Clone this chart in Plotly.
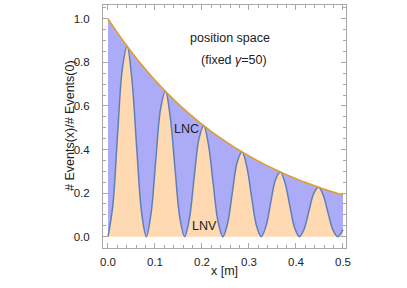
import plotly.graph_objects as go

# x positions [m]
x_m = [0, 0.0102, 0.0204, 0.0306, 0.0408, 0.0509, 0.0611, 0.0713, 0.0815, 0.0917,
       0.1019, 0.1121, 0.1223, 0.1324, 0.1426, 0.1528, 0.1630, 0.1732, 0.1834, 0.1936,
       0.2038, 0.2139, 0.2241, 0.2343, 0.2445, 0.2547, 0.2649, 0.2751, 0.2853, 0.2954,
       0.3056, 0.3158, 0.3260, 0.3362, 0.3464, 0.3566, 0.3668, 0.3769, 0.3871, 0.3973,
       0.4075, 0.4177, 0.4279, 0.4381, 0.4483, 0.4584, 0.4686, 0.4788, 0.4890, 0.5000]

# total (envelope) = LNC + LNV
total = [1.0, 0.9668, 0.9348, 0.9038, 0.8738, 0.8448, 0.8168, 0.7897, 0.7635, 0.7382,
         0.7137, 0.6900, 0.6671, 0.6450, 0.6236, 0.6029, 0.5829, 0.5636, 0.5449, 0.5268,
         0.5094, 0.4925, 0.4761, 0.4603, 0.4451, 0.4303, 0.4160, 0.4022, 0.3889, 0.3760,
         0.3635, 0.3515, 0.3398, 0.3285, 0.3176, 0.3071, 0.2969, 0.2870, 0.2775, 0.2683,
         0.2594, 0.2508, 0.2425, 0.2345, 0.2267, 0.2192, 0.2119, 0.2049, 0.1981, 0.1910]

# LNV part
lnv = [0.0, 0.1416, 0.4674, 0.7714, 0.8738, 0.7211, 0.4084, 0.1157, 0.0, 0.1081,
       0.3569, 0.5890, 0.6671, 0.5505, 0.3118, 0.0883, 0.0, 0.0825, 0.2725, 0.4497,
       0.5094, 0.4203, 0.2381, 0.0674, 0.0, 0.0630, 0.2080, 0.3433, 0.3889, 0.3209,
       0.1818, 0.0515, 0.0, 0.0481, 0.1588, 0.2621, 0.2969, 0.2450, 0.1388, 0.0393,
       0.0, 0.0367, 0.1213, 0.2001, 0.2267, 0.1871, 0.1059, 0.0300, 0.0, 0.0323]

x_ticks = [0.0, 0.1, 0.2, 0.3, 0.4, 0.5]
y_ticks = [0.0, 0.2, 0.4, 0.6, 0.8, 1.0]

FONT = "Liberation Sans, Arial, sans-serif"
FRAME = "#a8a8a8"
TXT = "#222"

W, H = 407, 288
L, R, T, B = 103, 346, 5, 248  # plot frame in pixels
PW, PH = R - L, B - T


def px(xp):
    return (xp - L) / PW


def py(yp):
    return 1 - (yp - T) / PH


fig = go.Figure()
fig.add_trace(go.Scatter(
    x=x_m, y=lnv, mode="lines", line=dict(color="#5E81B5", width=1.5, shape="spline"),
    fill="tozeroy", fillcolor="#FED9B2", showlegend=False, hoverinfo="skip"))
fig.add_trace(go.Scatter(
    x=x_m, y=total, mode="lines", line=dict(color="#E19C24", width=1.5, shape="spline"),
    fill="tonexty", fillcolor="#ABABF7", showlegend=False, hoverinfo="skip"))

axis_common = dict(
    showline=True, linecolor=FRAME, linewidth=1, mirror="allticks",
    ticks="inside", tickcolor=FRAME, ticklen=5, tickwidth=1,
    showgrid=False, zeroline=False, automargin=False,
    tickfont=dict(family=FONT, size=11.5, color=TXT),
)

fig.update_xaxes(range=[-0.0106, 0.5064], tickvals=x_ticks,
                 ticktext=[f"{v:.1f}" for v in x_ticks],
                 ticklabelstandoff=3,
                 minor=dict(dtick=0.02, ticks="inside", ticklen=3, tickcolor=FRAME),
                 **axis_common)
fig.update_yaxes(range=[-0.052, 1.063], tickvals=y_ticks,
                 ticktext=[f"{v:.1f}" for v in y_ticks],
                 ticklabelstandoff=10,
                 minor=dict(dtick=0.05, ticks="inside", ticklen=3, tickcolor=FRAME),
                 **axis_common)

ann_font = dict(family=FONT, size=12.5, color=TXT)
# axis titles
fig.add_annotation(x=px(224), y=py(280), xref="paper", yref="paper", text="x [m]",
                   showarrow=False, font=ann_font)
fig.add_annotation(x=px(70), y=py(126), xref="paper", yref="paper",
                   text="# Events(x)/# Events(0)", textangle=-90,
                   xanchor="center", yanchor="middle",
                   showarrow=False, font=ann_font)
# text labels
fig.add_annotation(x=px(272), y=py(29), xref="paper", yref="paper", text="position space",
                   showarrow=False, font=ann_font)
fig.add_annotation(x=px(269), y=py(51), xref="paper", yref="paper", text="(fixed <i>γ</i>=50)",
                   showarrow=False, font=ann_font)
fig.add_annotation(x=0.168, y=0.494, text="LNC", showarrow=False, font=ann_font)
fig.add_annotation(x=0.206, y=0.049, text="LNV", showarrow=False, font=ann_font)

fig.update_layout(
    width=W, height=H,
    margin=dict(l=L, r=W - R, t=T, b=H - B, autoexpand=False),
    paper_bgcolor="white", plot_bgcolor="white",
    font=dict(family=FONT),
)

fig.write_html("out.html", config={"displayModeBar": False},
               post_script="document.body.style.margin='0px';")
